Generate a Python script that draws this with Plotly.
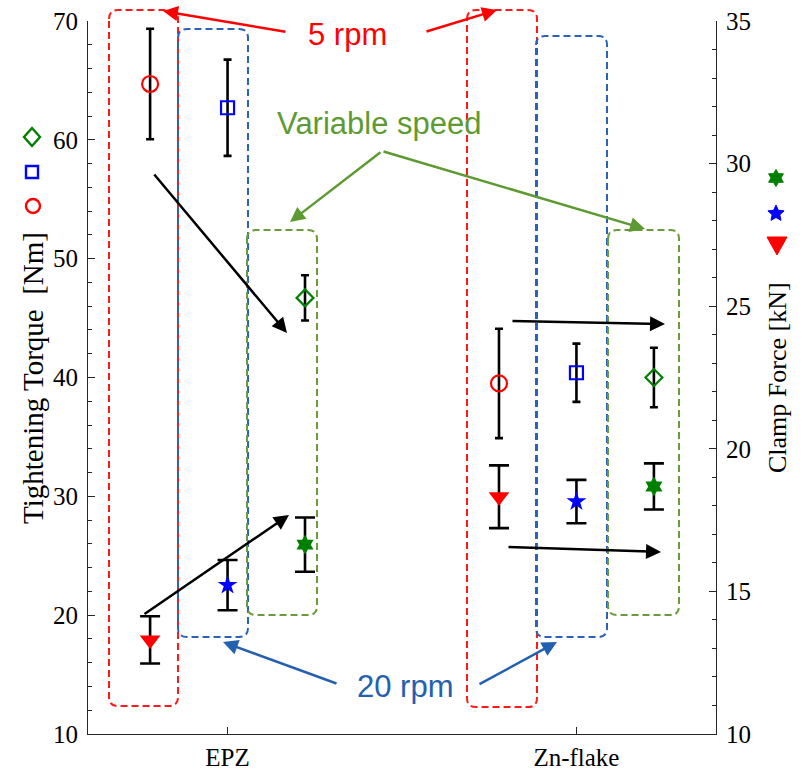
import math
import plotly.graph_objects as go

# ---------------- data ----------------
categories = ["EPZ", "Zn-flake"]
speed_labels = ["5 rpm", "20 rpm", "Variable speed"]

torque_5rpm = [64.7, 39.5]
torque_5rpm_err = [4.65, 4.6]
torque_20rpm = [62.7, 40.4]
torque_20rpm_err = [4.05, 2.45]
torque_var = [46.7, 40.0]
torque_var_err = [1.9, 2.5]

force_5rpm = [13.3, 18.32]
force_5rpm_err = [0.83, 1.1]
force_20rpm = [15.22, 18.15]
force_20rpm_err = [0.88, 0.76]
force_var = [16.64, 18.68]
force_var_err = [0.95, 0.81]

torque_ticks = [10, 20, 30, 40, 50, 60, 70]
force_ticks = [10, 15, 20, 25, 30, 35]

# ---------------- layout geometry (pixels) ----------------
W, H = 805, 773
L, R, T, B = 88, 716, 21, 734
speed_offsets = [-0.222, 0.0, 0.222]

RED = "#FF0000"
BLUE = "#0000FF"
GREEN = "#008000"
BOX_RED = "#FF1A1A"
BOX_BLUE = "#2A62B8"
BOX_GREEN = "#6A9A3A"
TXT_GREEN = "#5E9A32"
TXT_BLUE = "#2360B0"
AX = "#262626"
SERIF = "Liberation Serif, Times New Roman, serif"
SANS = "Liberation Sans, Arial, sans-serif"


def px2paper(px, py):
    return (px - L) / (R - L), (B - py) / (B - T)


def xpos(k):
    return [i + 1 + speed_offsets[k] for i in range(len(categories))]


fig = go.Figure()

torque_series = [
    (torque_5rpm, torque_5rpm_err, "circle-open", 16, RED),
    (torque_20rpm, torque_20rpm_err, "square-open", 13, BLUE),
    (torque_var, torque_var_err, "diamond-open", 13, GREEN),
]
force_series = [
    (force_5rpm, force_5rpm_err, "triangle-down", 18, RED),
    (force_20rpm, force_20rpm_err, "star", 15, BLUE),
    (force_var, force_var_err, "hexagram", 15, GREEN),
]

for k, (vals, err, sym, size, col) in enumerate(torque_series):
    fig.add_trace(go.Scatter(
        x=xpos(k), y=vals, mode="markers", name=speed_labels[k] + " torque",
        marker=dict(symbol=sym, size=size, color=col, line=dict(width=2.2, color=col)),
        error_y=dict(type="data", array=err, visible=True, color="black", thickness=2.6, width=4),
        showlegend=False, xaxis="x", yaxis="y", cliponaxis=False,
    ))

for k, (vals, err, sym, size, col) in enumerate(force_series):
    fig.add_trace(go.Scatter(
        x=xpos(k), y=vals, mode="markers", name=speed_labels[k] + " force",
        marker=dict(symbol=sym, size=size, color=col, line=dict(width=0)),
        error_y=dict(type="data", array=err, visible=True, color="black", thickness=2.6, width=10),
        showlegend=False, xaxis="x", yaxis="y2", cliponaxis=False,
    ))


# ---------------- helpers for paper-space drawing ----------------
def P(px, py):
    a, b = px2paper(px, py)
    return f"{a:.5f},{b:.5f}"


def poly_path(pts):
    return "M " + " L ".join(P(x, y) for x, y in pts) + " Z"


def star_pts(cx, cy, n, r_out, r_in):
    pts = []
    for i in range(2 * n):
        ang = -math.pi / 2 + i * math.pi / n
        rr = r_out if i % 2 == 0 else r_in
        pts.append((cx + rr * math.cos(ang), cy + rr * math.sin(ang)))
    return pts


# legend-like marker keys outside the axes
def key_open(path, col):
    fig.add_shape(type="path", path=path, xref="paper", yref="paper",
                  line=dict(color=col, width=2.4), fillcolor="rgba(0,0,0,0)", layer="above")


def key_filled(path, col):
    fig.add_shape(type="path", path=path, xref="paper", yref="paper",
                  line=dict(color=col, width=1), fillcolor=col, layer="above")


key_open(poly_path([(32, 128), (40, 137), (32, 146), (24, 137)]), GREEN)
key_open(poly_path([(26, 166), (38, 166), (38, 178), (26, 178)]), BLUE)
cx0, cy0 = px2paper(26, 199)
cx1, cy1 = px2paper(40, 213)
fig.add_shape(type="circle", x0=cx0, y0=cy1, x1=cx1, y1=cy0, xref="paper", yref="paper",
              line=dict(color=RED, width=2.4), layer="above")
key_filled(poly_path(star_pts(776, 178, 6, 8.5, 5.0)), GREEN)
key_filled(poly_path(star_pts(776, 213.5, 5, 8.5, 4.0)), BLUE)
key_filled(poly_path([(767, 237), (787, 237), (777, 255)]), RED)


# ---------------- dashed rounded boxes ----------------
def rbox(x0, x1, y0, y1, r=9):
    return (f"M {P(x0, y0 + r)} Q {P(x0, y0)} {P(x0 + r, y0)} L {P(x1 - r, y0)} "
            f"Q {P(x1, y0)} {P(x1, y0 + r)} L {P(x1, y1 - r)} Q {P(x1, y1)} {P(x1 - r, y1)} "
            f"L {P(x0 + r, y1)} Q {P(x0, y1)} {P(x0, y1 - r)} Z")


boxes = [
    (109, 178, 10, 706, BOX_RED),
    (178, 248, 29, 637, BOX_BLUE),
    (247, 317, 230, 615, BOX_GREEN),
    (467, 537, 10, 707, BOX_RED),
    (536, 607, 36, 637, BOX_BLUE),
    (608, 679, 230, 615, BOX_GREEN),
]
for x0, x1, y0, y1, col in boxes:
    fig.add_shape(type="path", path=rbox(x0, x1, y0, y1), xref="paper", yref="paper",
                  line=dict(color=col, width=2, dash="7px,4px"), layer="above")


# ---------------- arrows ----------------
def arrow(tail, head, col, w=2.5):
    hx, hy = px2paper(*head)
    fig.add_annotation(x=hx, y=hy, xref="paper", yref="paper", ax=tail[0] - head[0],
                       ay=tail[1] - head[1], axref="pixel", ayref="pixel", text="",
                       showarrow=True, arrowhead=2, arrowsize=1.2, arrowwidth=w,
                       arrowcolor=col, standoff=0)


arrow((287, 32), (163, 11), RED)
arrow((425, 32), (497, 10), RED)
arrow((382, 151), (290, 222), TXT_GREEN)
arrow((382, 151), (645, 229), TXT_GREEN)
arrow((338, 684), (223, 642), TXT_BLUE)
arrow((478, 685), (557, 642), TXT_BLUE)
arrow((153, 173), (287, 333), "black")
arrow((143, 615), (289, 515), "black")
arrow((511, 321), (665, 324), "black")
arrow((507, 547), (661, 552), "black")


def label(text, px, py, col, family=SANS, size=31, angle=0):
    x, y = px2paper(px, py)
    fig.add_annotation(x=x, y=y, xref="paper", yref="paper", text=text, showarrow=False,
                       font=dict(family=family, size=size, color=col), textangle=angle,
                       xanchor="center", yanchor="middle")


label("5 rpm", 347, 34, RED)
label("Variable speed", 379, 123, TXT_GREEN)
label("20 rpm", 405, 686, TXT_BLUE)
label("Tightening Torque\u00a0 [Nm]", 33, 378, "black", SERIF, 29, -90)
label("Clamp Force [kN]", 777, 378, "black", SERIF, 26, -90)

# ---------------- layout ----------------
fig.update_layout(
    width=W, height=H,
    margin=dict(l=L, r=W - R, t=T, b=H - B, autoexpand=False),
    plot_bgcolor="white", paper_bgcolor="white",
    showlegend=False,
    xaxis=dict(
        range=[0.6, 2.4], tickvals=[1, 2], ticktext=categories,
        showline=True, linecolor=AX, linewidth=1, mirror=False,
        ticks="inside", ticklen=7, tickcolor=AX, showgrid=False, zeroline=False,
        tickfont=dict(family=SERIF, size=25, color="black"), ticklabelstandoff=1,
    ),
    yaxis=dict(
        range=[10, 70], tickvals=torque_ticks,
        showline=True, linecolor=AX, linewidth=1,
        ticks="inside", ticklen=7, tickcolor=AX, showgrid=False, zeroline=False,
        minor=dict(dtick=2, ticks="inside", ticklen=4, tickcolor=AX, showgrid=False),
        tickfont=dict(family=SERIF, size=25, color="black"), ticklabelstandoff=4,
    ),
    yaxis2=dict(
        range=[10, 35], tickvals=force_ticks, overlaying="y", side="right",
        showline=True, linecolor=AX, linewidth=1,
        ticks="inside", ticklen=7, tickcolor=AX, showgrid=False, zeroline=False,
        minor=dict(dtick=1, ticks="inside", ticklen=4, tickcolor=AX, showgrid=False),
        tickfont=dict(family=SERIF, size=25, color="black"), ticklabelstandoff=4,
    ),
)

fig.write_html("out.html")
